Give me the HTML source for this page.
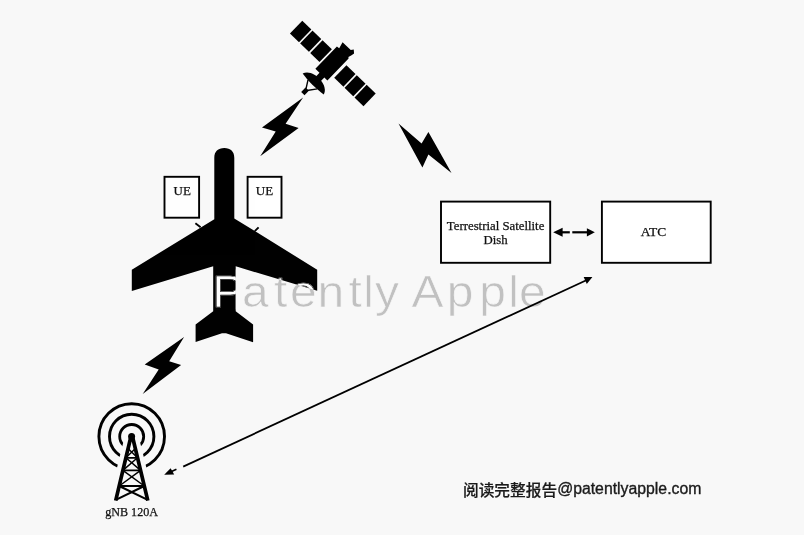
<!DOCTYPE html>
<html>
<head>
<meta charset="utf-8">
<title>Patent figure</title>
<style>
html,body{margin:0;padding:0;background:#f8f8f8;}
body{width:804px;height:535px;overflow:hidden;position:relative;}
svg{position:absolute;left:0;top:0;display:block;will-change:transform;opacity:0.9999;}
.serif{font-family:"Liberation Serif","Noto Serif CJK SC",serif;stroke:#111;stroke-width:0.25px;}
.sans{font-family:"Liberation Sans","Noto Sans CJK SC",sans-serif;}
</style>
</head>
<body>
<svg width="804" height="535" viewBox="0 0 804 535">
<defs>
  <clipPath id="planeClip">
    <path id="planeShape" d="M214.3,158 C214.3,151.5 218,148.1 224.3,148.1 C230.6,148.1 234.3,151.5 234.3,158 L234.3,218.4 L317.2,269.7 L317.2,290.7 L235.7,266.3 L235.7,311.2 L253.1,324.4 L253.1,342.2 L226,333.2 L222,333.2 L195.6,342 L195.6,324.4 L213.2,311.2 L213.2,266.3 L131.8,291.1 L131.8,269.7 L214.3,219.3 Z"/>
  </clipPath>
</defs>
<rect x="0" y="0" width="804" height="535" fill="#f8f8f8"/>

<!-- satellite -->
<g id="sat" transform="translate(333.9,64.5) rotate(44)" fill="#000">
  <rect x="-53.2" y="-9.6" width="41.1" height="17.8"/>
  <rect x="-40.6" y="-10.6" width="1.7" height="19.8" fill="#f8f8f8"/>
  <rect x="-26.7" y="-10.6" width="1.7" height="19.8" fill="#f8f8f8"/>
  <rect x="9.5" y="-8.2" width="40.7" height="17.6"/>
  <rect x="22.2" y="-9.2" width="1.7" height="19.6" fill="#f8f8f8"/>
  <rect x="36" y="-9.2" width="1.7" height="19.6" fill="#f8f8f8"/>
  <polygon points="-10.3,16 -10.3,-15 -7.4,-15.3 -9.2,-22 2,-22.2 3.9,-24.5 6.9,-21.9 6.2,-19 5.2,-15.5 6.4,-14.5 6.4,16 2.2,16 2.2,22 -4.6,22 -4.6,16"/>
  <path d="M-16.2,28.2 C-13,17.5 10.5,17.5 13.5,28.6 C4,30 -7,29.8 -16.2,28.2 Z"/>
  <path d="M-8,29 L-2.8,37.5 M5,29 L-1.4,37.5" stroke="#000" stroke-width="1.4" fill="none"/>
  <rect x="-4.4" y="36.3" width="4.6" height="6.2"/>
</g>

<!-- lightning bolts -->
<polygon fill="#000" points="303.1,97.6 262,127.6 275.7,131.6 260.2,156.3 298.6,127.9 285.6,123.8"/>
<polygon fill="#000" points="398.5,123.5 421.6,143.6 428.4,132.1 451.5,173.1 428.4,154.6 422.4,167.6"/>
<polygon fill="#000" points="184.1,337 144.7,364.6 158.7,369.4 142.7,394.1 181.1,365.1 169.2,361.2"/>

<!-- airplane -->
<use href="#planeShape" fill="#000"/>
<path d="M195.4,223.3 L200.6,227.3 M254.8,231.2 L258.6,227.3" stroke="#000" stroke-width="1.9" fill="none"/>

<!-- watermark -->
<g fill="#c1c1c1" stroke="#f8f8f8" stroke-width="0.7">
  <text id="wm" class="sans" transform="translate(0,306.9) scale(1,0.9375)" x="212.2 241.9 274 289.9 317.5 348.5 363.3 375 400 411.6 446.7 479.2 508.2 518.9" y="0" font-size="48">Patently Apple</text>
</g>
<rect x="235.8" y="269.5" width="7" height="40" fill="#f8f8f8"/>
<g clip-path="url(#planeClip)">
  <use href="#wm" fill="#ffffff" stroke="#000" stroke-width="0.7"/>
</g>

<!-- UE boxes -->
<rect x="164.5" y="176.8" width="34.6" height="40.9" fill="#fff" stroke="#000" stroke-width="1.9"/>
<rect x="247.6" y="176.8" width="33.9" height="40.9" fill="#fff" stroke="#000" stroke-width="1.9"/>
<text class="serif" x="182.2" y="194.6" font-size="13" text-anchor="middle" fill="#111">UE</text>
<text class="serif" x="264.5" y="194.6" font-size="13" text-anchor="middle" fill="#111">UE</text>

<!-- boxes -->
<rect x="441" y="201.6" width="109.2" height="61.2" fill="#fff" stroke="#000" stroke-width="1.9"/>
<rect x="601.9" y="201.6" width="108.8" height="61.2" fill="#fff" stroke="#000" stroke-width="1.9"/>
<text class="serif" x="495.6" y="229.8" font-size="12.8" text-anchor="middle" fill="#111">Terrestrial Satellite</text>
<text class="serif" x="495.6" y="243.7" font-size="12.8" text-anchor="middle" fill="#111">Dish</text>
<text class="serif" x="653.4" y="235.9" font-size="13.5" text-anchor="middle" fill="#111">ATC</text>

<!-- double arrow -->
<g fill="#000" stroke="none">
  <polygon points="553.2,232.3 562.6,227.8 562.6,236.8"/>
  <polygon points="594.8,232.3 586.9,228.2 586.9,236.4"/>
  <rect x="562" y="231.2" width="7.8" height="2.2"/>
  <rect x="572.3" y="231.2" width="15.5" height="2.2"/>
</g>

<!-- long arrow -->
<line x1="588.5" y1="279.2" x2="183.2" y2="466.6" stroke="#000" stroke-width="1.8"/>
<polygon fill="#000" points="592.4,277.1 583.7,277.1 586.8,284.1"/>
<polygon fill="#000" points="164.2,474.8 170.6,468.3 174.2,474.4"/>
<line x1="176.4" y1="469.2" x2="171" y2="471.7" stroke="#000" stroke-width="1.6"/>

<!-- tower -->
<g fill="none" stroke="#000">
  <circle cx="131.7" cy="436.5" r="32.8" stroke-width="2.9"/>
  <circle cx="131.7" cy="436.5" r="22.2" stroke-width="2.9"/>
  <circle cx="131.7" cy="436.5" r="12" stroke-width="2.8"/>
</g>
<polygon points="124.6,437 138.8,437 154.6,501 108.8,501" fill="#f8f8f8"/>
<g fill="none" stroke="#000" stroke-linejoin="round">
  <path d="M130.6,438 L115.7,500.6 M132.8,438 L147.8,500.6" stroke-width="3.7"/>
  <path d="M125.9,457.8 H137.5 M122.9,470.4 H140.6 M119.2,486 H144.3" stroke-width="1.8"/>
  <path d="M128,448.5 L137.5,457.8 M135.4,448.5 L125.9,457.8 M125.9,457.8 L140.6,470.4 M137.5,457.8 L122.9,470.4 M122.9,470.4 L144.3,486 M140.6,470.4 L119.2,486" stroke-width="1.5"/>
  <path d="M119.2,486 L147.2,499.6 M144.3,486 L116.3,499.6" stroke-width="2.1"/>
</g>
<circle cx="131.6" cy="436.6" r="3.5" fill="#000"/>
<text class="serif" x="131.6" y="516.4" font-size="12.1" text-anchor="middle" fill="#111">gNB 120A</text>

<!-- caption -->
<text class="sans" x="463" y="495.7" font-size="15.7" font-weight="500" fill="#1a1a1a" stroke="#1a1a1a" stroke-width="0.2">阅读完整报告<tspan dy="-1.3" font-size="15.8" font-weight="400" stroke-width="0.35">@patentlyapple.com</tspan></text>
</svg>
</body>
</html>
